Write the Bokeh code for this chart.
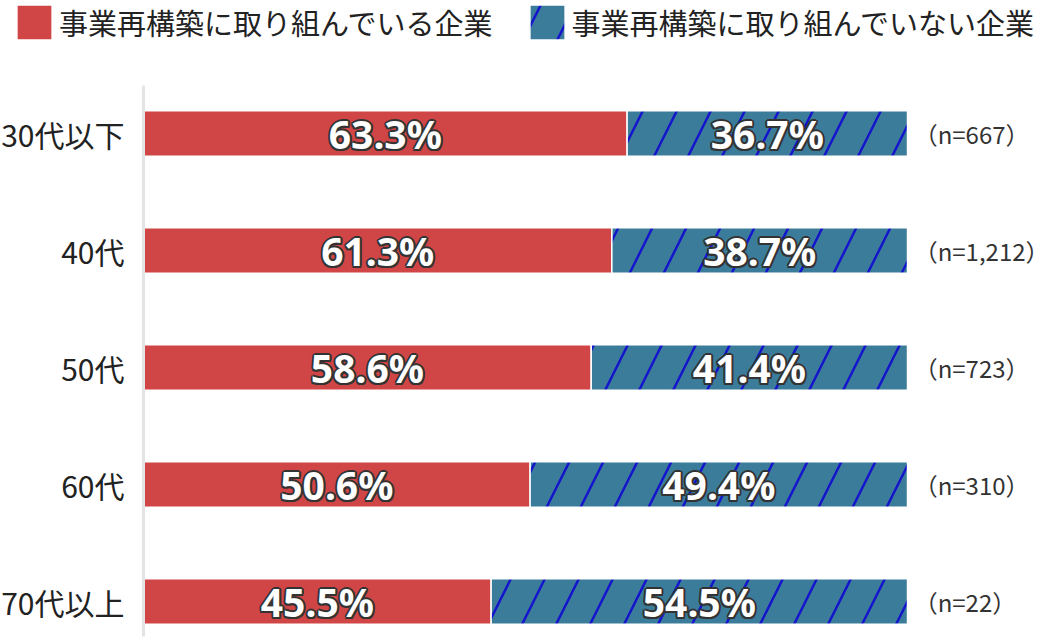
from bokeh.plotting import figure
from bokeh.models import ColumnDataSource, Range1d, FixedTicker, Legend, LegendItem
from bokeh.core.properties import value
from bokeh.embed import file_html
from bokeh.resources import INLINE

ages = ["30代以下", "40代", "50代", "60代", "70代以上"]
doing = [63.3, 61.3, 58.6, 50.6, 45.5]
not_doing = [36.7, 38.7, 41.4, 49.4, 54.5]
counts = ["（n=667）", "（n=1,212）", "（n=723）", "（n=310）", "（n=22）"]
series_names = ["事業再構築に取り組んでいる企業", "事業再構築に取り組んでいない企業"]

jp_font = "Noto Sans CJK JP"
red = "#d04545"
blue = "#3a7c9a"
stripe = "#1414cc"

ypos = [len(ages) - 1 - i for i in range(len(ages))]
src = ColumnDataSource(dict(
    y=ypos,
    doing=doing,
    not_doing=not_doing,
    total=[a + b for a, b in zip(doing, not_doing)],
    doing_mid=[a / 2 for a in doing],
    not_mid=[a + b / 2 for a, b in zip(doing, not_doing)],
    doing_lbl=["%.1f%%" % v for v in doing],
    not_lbl=["%.1f%%" % v for v in not_doing],
    n_x=[100.8] * len(ages),
    counts=counts,
))

p = figure(width=1056, height=638, output_backend="svg", toolbar_location=None,
           x_range=Range1d(-18.72, 119.5), y_range=Range1d(-0.316, 5.137),
           min_border_left=0, min_border_right=0, min_border_top=0, min_border_bottom=0)
p.outline_line_color = None
p.grid.visible = False
p.xaxis.visible = False

r1 = p.hbar(y="y", left=0, right="doing", height=0.39, source=src,
            fill_color=red, line_color="white", line_width=1.5)
r2 = p.hbar(y="y", left="doing", right="total", height=0.39, source=src,
            fill_color=blue, line_color="white", line_width=1.5,
            hatch_pattern="/", hatch_color=stripe, hatch_weight=2.5, hatch_scale=68)

# white labels with a dark rim
rim = [(-2, 0), (2, 0), (0, -2), (0, 2), (-1.5, -1.5), (1.5, -1.5), (-1.5, 1.5), (1.5, 1.5)]
for xcol, tcol in [("doing_mid", "doing_lbl"), ("not_mid", "not_lbl")]:
    for dx, dy in rim:
        p.text(x=xcol, y="y", text=tcol, source=src, text_align="center", text_baseline="middle",
               x_offset=dx, y_offset=dy,
               text_font=value("Noto Sans"), text_font_style="bold", text_font_size="39px",
               text_color="#333333")
    p.text(x=xcol, y="y", text=tcol, source=src, text_align="center", text_baseline="middle",
           text_font=value("Noto Sans"), text_font_style="bold", text_font_size="39px",
           text_color="white")

p.text(x="n_x", y="y", text="counts", source=src, text_align="left", text_baseline="middle",
       text_font=value(jp_font), text_font_size="24px", text_color="#333333")

ax = p.yaxis[0]
ax.fixed_location = 0
ax.bounds = (-0.3, 4.41)
ax.ticker = FixedTicker(ticks=ypos)
ax.major_label_overrides = {y: a for y, a in zip(ypos, ages)}
ax.major_tick_line_color = None
ax.minor_tick_line_color = None
ax.axis_line_color = "#e4e4e4"
ax.axis_line_width = 3
ax.major_label_text_font = jp_font
ax.major_label_text_font_size = "30px"
ax.major_label_text_color = "#222222"
ax.major_label_standoff = 13

legend = Legend(items=[LegendItem(label=series_names[0], renderers=[r1]),
                       LegendItem(label=series_names[1], renderers=[r2])],
                orientation="horizontal", location=(12, 594),
                glyph_width=44, glyph_height=44, label_standoff=3, spacing=32,
                padding=0, margin=0, border_line_alpha=0, background_fill_alpha=0,
                label_text_font=jp_font, label_text_font_size="29px",
                label_text_color="#222222")
p.add_layout(legend, "center")

open("out.html", "w").write(file_html(p, INLINE))
